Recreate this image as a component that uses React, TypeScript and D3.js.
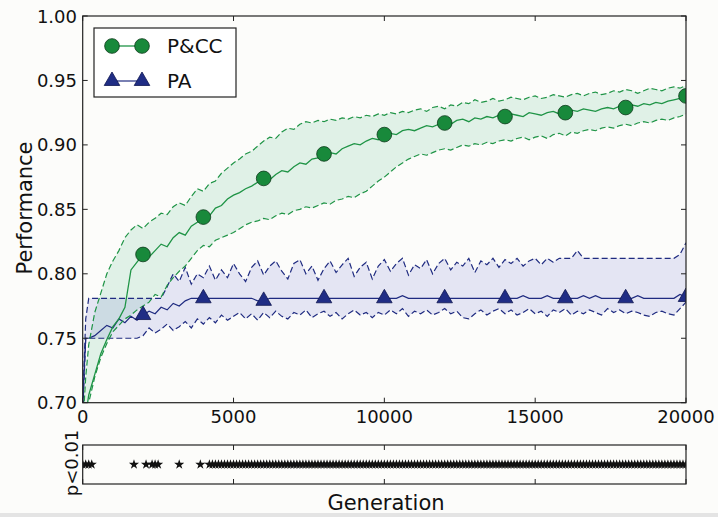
import React from 'react';
import * as d3 from 'd3';

// generation grid shared by every curve (fine step near the start)
const generations = [0, 100, ...d3.range(200, 20001, 200)];

const pccMean = [
  0.660, 0.690, 0.706, 0.722, 0.738, 0.749, 0.759, 0.765, 0.774, 0.803,
  0.809, 0.815, 0.813, 0.818, 0.823, 0.821, 0.828, 0.832, 0.830, 0.837,
  0.840, 0.844, 0.845, 0.851, 0.853, 0.858, 0.861, 0.863, 0.866, 0.868,
  0.871, 0.874, 0.873, 0.877, 0.880, 0.879, 0.883, 0.886, 0.885, 0.889,
  0.890, 0.893, 0.894, 0.893, 0.897, 0.899, 0.901, 0.900, 0.903, 0.905,
  0.904, 0.908, 0.909, 0.908, 0.911, 0.912, 0.911, 0.913, 0.915, 0.914,
  0.916, 0.917, 0.916, 0.919, 0.920, 0.918, 0.921, 0.920, 0.922, 0.921,
  0.923, 0.922, 0.924, 0.923, 0.922, 0.925, 0.924, 0.923, 0.925, 0.926,
  0.924, 0.925, 0.927, 0.926, 0.928, 0.927, 0.926, 0.928, 0.929, 0.928,
  0.930, 0.929, 0.931, 0.930, 0.932, 0.931, 0.933, 0.932, 0.934, 0.935,
  0.936, 0.938,
];

const pccUpper = [
  0.680, 0.720, 0.745, 0.770, 0.785, 0.800, 0.810, 0.818, 0.828, 0.834,
  0.838, 0.835, 0.840, 0.843, 0.847, 0.846, 0.852, 0.855, 0.853, 0.860,
  0.866, 0.864, 0.870, 0.872, 0.878, 0.882, 0.886, 0.889, 0.893, 0.895,
  0.899, 0.903, 0.906, 0.905, 0.910, 0.913, 0.912, 0.916, 0.918, 0.917,
  0.919, 0.918, 0.920, 0.919, 0.921, 0.920, 0.922, 0.921, 0.923, 0.922,
  0.924, 0.923, 0.925, 0.924, 0.926, 0.925, 0.927, 0.928, 0.926, 0.929,
  0.930, 0.928, 0.931, 0.930, 0.933, 0.932, 0.935, 0.933, 0.934, 0.936,
  0.934, 0.935, 0.937, 0.936, 0.935, 0.937, 0.938, 0.936, 0.937, 0.939,
  0.938, 0.937, 0.939, 0.940, 0.938, 0.940, 0.941, 0.939, 0.940, 0.942,
  0.941, 0.943, 0.942, 0.940, 0.942, 0.944, 0.943, 0.942, 0.944, 0.945,
  0.944, 0.946,
];

const pccLower = [
  0.640, 0.675, 0.700, 0.720, 0.735, 0.746, 0.755, 0.760, 0.765, 0.768,
  0.772, 0.775, 0.778, 0.784, 0.782, 0.791, 0.797, 0.802, 0.806, 0.812,
  0.818, 0.822, 0.821, 0.826, 0.828, 0.830, 0.832, 0.835, 0.838, 0.840,
  0.841, 0.843, 0.842, 0.845, 0.847, 0.846, 0.849, 0.850, 0.852, 0.851,
  0.853, 0.855, 0.854, 0.857, 0.858, 0.860, 0.859, 0.862, 0.864, 0.868,
  0.872, 0.875, 0.879, 0.883, 0.886, 0.889, 0.891, 0.893, 0.892, 0.894,
  0.896, 0.897, 0.896, 0.898, 0.900, 0.899, 0.901, 0.900, 0.902, 0.901,
  0.903, 0.904, 0.903, 0.905, 0.906, 0.904, 0.906, 0.907, 0.905, 0.908,
  0.909, 0.907, 0.910, 0.909, 0.911, 0.912, 0.911, 0.913, 0.914, 0.913,
  0.915, 0.916, 0.915, 0.917, 0.918, 0.917, 0.919, 0.920, 0.919, 0.921,
  0.922, 0.924,
];

const paMean = [
  0.700, 0.750, 0.750, 0.752, 0.756, 0.760, 0.758, 0.765, 0.762, 0.767,
  0.764, 0.768, 0.771, 0.769, 0.774, 0.772, 0.777, 0.775, 0.779, 0.781,
  0.781, 0.781, 0.781, 0.781, 0.781, 0.781, 0.781, 0.781, 0.781, 0.781,
  0.779, 0.779, 0.781, 0.781, 0.781, 0.781, 0.781, 0.781, 0.781, 0.781,
  0.781, 0.781, 0.781, 0.781, 0.781, 0.781, 0.781, 0.781, 0.781, 0.781,
  0.781, 0.781, 0.781, 0.781, 0.783, 0.781, 0.781, 0.781, 0.781, 0.781,
  0.781, 0.781, 0.781, 0.781, 0.781, 0.781, 0.781, 0.781, 0.781, 0.781,
  0.781, 0.781, 0.781, 0.781, 0.783, 0.781, 0.781, 0.781, 0.783, 0.781,
  0.781, 0.781, 0.781, 0.781, 0.783, 0.781, 0.783, 0.781, 0.781, 0.781,
  0.781, 0.781, 0.781, 0.783, 0.781, 0.781, 0.781, 0.781, 0.781, 0.781,
  0.784, 0.782,
];

const paUpper = [
  0.700, 0.765, 0.781, 0.781, 0.781, 0.781, 0.781, 0.781, 0.781, 0.781,
  0.781, 0.781, 0.781, 0.781, 0.781, 0.790, 0.800, 0.794, 0.805, 0.792,
  0.800, 0.797, 0.806, 0.795, 0.803, 0.797, 0.808, 0.800, 0.794, 0.805,
  0.810, 0.799, 0.806, 0.810, 0.802, 0.796, 0.808, 0.811, 0.800, 0.806,
  0.795, 0.804, 0.810, 0.801, 0.807, 0.812, 0.798, 0.805, 0.809, 0.796,
  0.806, 0.811, 0.802, 0.808, 0.812, 0.799, 0.807, 0.804, 0.811, 0.800,
  0.808, 0.812, 0.803, 0.809, 0.806, 0.812, 0.801, 0.810, 0.807, 0.812,
  0.805, 0.811, 0.808, 0.812, 0.806, 0.810, 0.812, 0.807, 0.812, 0.809,
  0.812, 0.812, 0.812, 0.818, 0.812, 0.812, 0.812, 0.812, 0.812, 0.812,
  0.812, 0.812, 0.812, 0.812, 0.812, 0.812, 0.812, 0.812, 0.812, 0.812,
  0.815, 0.824,
];

const paLower = [
  0.690, 0.750, 0.750, 0.750, 0.750, 0.750, 0.750, 0.750, 0.750, 0.750,
  0.750, 0.752, 0.758, 0.754, 0.757, 0.761, 0.756, 0.759, 0.763, 0.758,
  0.765, 0.761, 0.766, 0.762, 0.768, 0.764, 0.767, 0.770, 0.765, 0.769,
  0.764, 0.770, 0.766, 0.771, 0.767, 0.765, 0.770, 0.768, 0.772, 0.766,
  0.769, 0.771, 0.767, 0.770, 0.765, 0.769, 0.772, 0.768, 0.770, 0.766,
  0.770, 0.768, 0.772, 0.769, 0.773, 0.767, 0.771, 0.769, 0.772, 0.768,
  0.770, 0.773, 0.769, 0.771, 0.766, 0.765, 0.769, 0.772, 0.768, 0.771,
  0.773, 0.769, 0.772, 0.768, 0.770, 0.773, 0.769, 0.771, 0.767, 0.772,
  0.770, 0.773, 0.768, 0.771, 0.769, 0.772, 0.770, 0.768, 0.773, 0.770,
  0.772, 0.769, 0.771, 0.770, 0.768, 0.767, 0.770, 0.771, 0.769, 0.768,
  0.773, 0.778,
];

const markerGens = [2000, 4000, 6000, 8000, 10000, 12000, 14000, 16000, 18000, 20000];

// runs of generations (tested every 100) where p < 0.01
const sigRuns = [[0, 300], [1700, 1700], [2100, 2100], [2300, 2500], [3200, 3200], [3900, 3900], [4200, 20000]];
const testStep = 100;

const xTicks = [0, 5000, 10000, 15000, 20000];
const yTicks = [0.70, 0.75, 0.80, 0.85, 0.90, 0.95, 1.00];

const GREEN = '#1f9446';
const GREEN_MK = '#18893b';
const BLUE = '#1f2b80';
const BLUE_MK = '#202d85';
const FONT = 'DejaVu Sans, sans-serif';

export default function App() {
  const W = 718, H = 517;
  const left = 82.7, right = 686, top = 16, bottom = 402.7;
  const stripTop = 445, stripBottom = 484;

  const x = d3.scaleLinear().domain([0, 20000]).range([left, right]);
  const y = d3.scaleLinear().domain([0.7, 1.0]).range([bottom, top]);

  const pts = (vals: number[]) => vals.map((v, i) => [generations[i], v] as [number, number]);
  const line = d3.line<[number, number]>().x(d => x(d[0])).y(d => y(d[1]));
  const band = (lo: number[], hi: number[]) =>
    d3.area<number>().x((_, i) => x(generations[i])).y0((_, i) => y(lo[i])).y1((_, i) => y(hi[i]))(lo) || '';

  const valAt = (vals: number[], g: number) => vals[generations.indexOf(g)];

  const circle = d3.symbol().type(d3.symbolCircle).size(170)() || '';
  const tri = d3.symbol().type(d3.symbolTriangle).size(105)() || '';
  const star = d3.symbol().type(d3.symbolStar).size(32)() || '';

  const sigGens = sigRuns.flatMap(([a, b]) => d3.range(a, b + 1, testStep));

  return (
    <svg width={W} height={H} style={{ position: 'absolute', left: 0, top: 0, background: '#fcfcfa' }}
      fontFamily={FONT}>
      <rect x={0} y={0} width={W} height={H} fill="#fcfcfa" />
      <rect x={0} y={513} width={W} height={4} fill="#e4e4e4" />
      <defs>
        <clipPath id="plotClip">
          <rect x={left} y={top} width={right - left} height={bottom - top} />
        </clipPath>
      </defs>

      <g clipPath="url(#plotClip)">
        <path d={band(pccLower, pccUpper)} fill="rgb(40,170,110)" fillOpacity={0.13} />
        <path d={band(paLower, paUpper)} fill="rgb(70,80,200)" fillOpacity={0.13} />

        <path d={line(pts(paUpper)) || ''} fill="none" stroke={BLUE} strokeWidth={1.2} strokeDasharray="6,3" />
        <path d={line(pts(paLower)) || ''} fill="none" stroke={BLUE} strokeWidth={1.2} strokeDasharray="6,3" />
        <path d={line(pts(paMean)) || ''} fill="none" stroke={BLUE} strokeWidth={1.2} />

        <path d={line(pts(pccUpper)) || ''} fill="none" stroke={GREEN} strokeWidth={1.2} strokeDasharray="6,3" />
        <path d={line(pts(pccLower)) || ''} fill="none" stroke={GREEN} strokeWidth={1.2} strokeDasharray="6,3" />
        <path d={line(pts(pccMean)) || ''} fill="none" stroke={GREEN} strokeWidth={1.3} />

        {markerGens.map(g => (
          <path key={'pa' + g} d={tri} transform={`translate(${x(g)},${y(valAt(paMean, g))})`}
            fill={BLUE_MK} stroke="#0f1650" strokeWidth={0.8} />
        ))}
        {markerGens.map(g => (
          <path key={'pcc' + g} d={circle} transform={`translate(${x(g)},${y(valAt(pccMean, g))})`}
            fill={GREEN_MK} stroke="#0c3a1b" strokeWidth={0.8} />
        ))}
      </g>

      {/* frame + ticks */}
      <rect x={left} y={top} width={right - left} height={bottom - top} fill="none" stroke="#222" strokeWidth={1.2} />
      {xTicks.map(t => (
        <g key={'xt' + t}>
          <line x1={x(t)} x2={x(t)} y1={bottom} y2={bottom - 5} stroke="#222" />
          <line x1={x(t)} x2={x(t)} y1={top} y2={top + 5} stroke="#222" />
          <text x={x(t)} y={423} textAnchor="middle" fontSize={18} fill="#111">{t}</text>
        </g>
      ))}
      {yTicks.map(t => (
        <g key={'yt' + t}>
          <line x1={left} x2={left + 5} y1={y(t)} y2={y(t)} stroke="#222" />
          <line x1={right} x2={right - 5} y1={y(t)} y2={y(t)} stroke="#222" />
          <text x={77} y={y(t) + 6.5} textAnchor="end" fontSize={18} fill="#111">{t.toFixed(2)}</text>
        </g>
      ))}

      <text transform={`translate(25,208) rotate(-90)`} textAnchor="middle" dominantBaseline="central"
        fontSize={21} fill="#111">Performance</text>

      {/* legend */}
      <rect x={94} y={28} width={142} height={69} fill="#fff" stroke="#222" strokeWidth={1.2} />
      <line x1={112} x2={142} y1={46} y2={46} stroke={GREEN} strokeWidth={1.3} />
      <path d={circle} transform="translate(112,46)" fill={GREEN_MK} stroke="#0c3a1b" strokeWidth={0.8} />
      <path d={circle} transform="translate(142,46)" fill={GREEN_MK} stroke="#0c3a1b" strokeWidth={0.8} />
      <text x={167} y={53} fontSize={20} fill="#111">P&amp;CC</text>
      <line x1={112} x2={142} y1={81} y2={81} stroke={BLUE} strokeWidth={1.2} />
      <path d={tri} transform="translate(112,81)" fill={BLUE_MK} stroke="#0f1650" strokeWidth={0.8} />
      <path d={tri} transform="translate(142,81)" fill={BLUE_MK} stroke="#0f1650" strokeWidth={0.8} />
      <text x={167} y={88} fontSize={20} fill="#111">PA</text>

      {/* significance strip */}
      <defs>
        <clipPath id="stripClip">
          <rect x={left} y={stripTop} width={right - left} height={stripBottom - stripTop} />
        </clipPath>
      </defs>
      <g clipPath="url(#stripClip)">
        {sigGens.map(g => (
          <path key={'s' + g} d={star} transform={`translate(${x(g)},${(stripTop + stripBottom) / 2})`} fill="#111" />
        ))}
      </g>
      <rect x={left} y={stripTop} width={right - left} height={stripBottom - stripTop} fill="none" stroke="#222" strokeWidth={1.2} />
      {xTicks.map(t => (
        <g key={'st' + t}>
          <line x1={x(t)} x2={x(t)} y1={stripTop} y2={stripTop + 5} stroke="#222" />
          <line x1={x(t)} x2={x(t)} y1={stripBottom} y2={stripBottom - 5} stroke="#222" />
        </g>
      ))}
      <text transform={`translate(71,463) rotate(-90)`} textAnchor="middle" dominantBaseline="central"
        fontSize={18} fill="#111">p&lt;0.01</text>
      <text x={386} y={510} textAnchor="middle" fontSize={21} fill="#111">Generation</text>
    </svg>
  );
}
